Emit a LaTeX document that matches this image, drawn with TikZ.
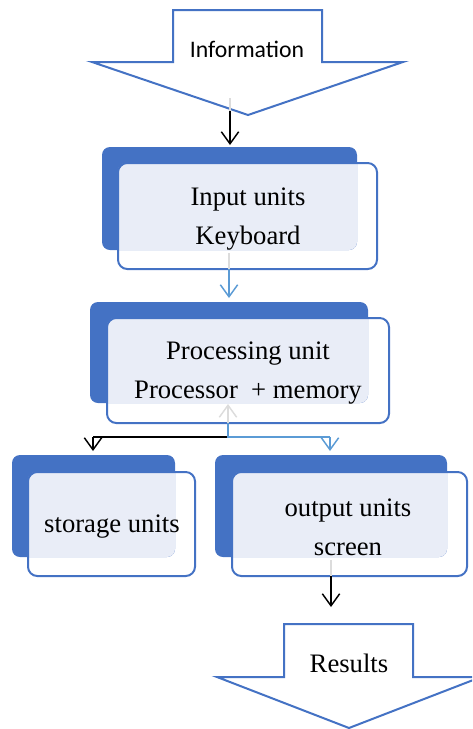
\documentclass[tikz,border=0pt]{standalone}
\usepackage{fontspec}
\setmainfont{Liberation Serif}
\newfontfamily\calib{Carlito}
\usetikzlibrary{arrows.meta,fit}
\definecolor{dk}{HTML}{4472C4}
\definecolor{lt}{HTML}{E9EDF7}
\definecolor{bl}{HTML}{5B9BD5}
\definecolor{gh}{HTML}{DCDCDC}
\begin{document}
\begin{tikzpicture}[x=0.75pt,y=-0.75pt,
  back/.style={fill=dk, draw=none, rounded corners=6pt, inner sep=0pt, outer sep=0pt},
  front/.style={draw=dk, line width=1.5pt, rounded corners=7pt, inner sep=0pt, outer sep=0pt},
  txt/.style={align=center, inner sep=0pt, font=\fontsize{20}{29}\selectfont},
  big/.style={draw=dk, line width=1.5pt, fill=white, line join=miter},
  tip/.style={-{Straight Barb[length=9pt,width=13pt,line width=1.1pt]}},
  con/.style={line width=1.1pt, black, tip},
  bcon/.style={line width=1.1pt, bl, tip},
  ghost/.style={line width=1.1pt, gh},
]
\useasboundingbox (0,0) rectangle (472,729);
\clip (0,0) rectangle (472,729);

% Information arrow
\draw[big] (173,10) -- (322,10) -- (322,62) -- (403,62) -- (248,115) -- (92,62) -- (173,62) -- cycle;
\node[font=\calib\fontsize{17.8}{20}\selectfont] (info) at (247,49) {Information};

% Input units
\node[back, fit={(102,147)(357,250)}] (inback) {};
\begin{scope}
  \clip[rounded corners=6pt] (102,147) rectangle (357,250);
  \fill[lt, rounded corners=6pt] (118,163) rectangle (377,269);
\end{scope}
\node[front, fit={(118,163)(377,269)}] (input) {};
\node[txt] (inputtxt) at (248,219) {Input units\\Keyboard};

% Processing unit
\node[back, fit={(90,302)(368,403)}] (prback) {};
\begin{scope}
  \clip[rounded corners=6pt] (90,302) rectangle (368,403);
  \fill[lt, rounded corners=6pt] (107,318) rectangle (389,423);
\end{scope}
\node[front, fit={(107,318)(389,423)}] (proc) {};
\node[txt] (proctxt) at (248,373) {Processing unit\\Processor \ + memory};

% Storage units
\node[back, fit={(12,455)(175,557)}] (stback) {};
\begin{scope}
  \clip[rounded corners=6pt] (12,455) rectangle (175,557);
  \fill[lt, rounded corners=6pt] (28,472) rectangle (195,576);
\end{scope}
\node[front, fit={(28,472)(195,576)}] (stor) {};
\node[txt] (stortxt) at (112,527) {storage units};

% Output units
\node[back, fit={(215,455)(447,557)}] (outback) {};
\begin{scope}
  \clip[rounded corners=6pt] (215,455) rectangle (447,557);
  \fill[lt, rounded corners=6pt] (232,472) rectangle (467,576);
\end{scope}
\node[front, fit={(232,472)(467,576)}] (out) {};
\node[txt] (outtxt) at (348,527) {output units\\screen};

% Results arrow
\draw[big] (284,624) -- (413,624) -- (413,677) -- (481,677) -- (349,728) -- (217,677) -- (284,677) -- cycle;
\node[font=\fontsize{20}{24}\selectfont] (res) at (349,663) {Results};

% connectors
\coordinate (c1) at (230,98);
\coordinate (c1b) at (230,111);
\draw[ghost] (c1) -- (c1b);
\draw[con] (c1b) -- ([yshift=1.5pt]c1 |- inback.north);

\coordinate (c2) at (229,253);
\draw[ghost] (c2) -- (c2 |- input.south);
\draw[bcon] (c2 |- input.south) -- ([yshift=3pt]c2 |- prback.north);

\coordinate (c3) at (228,437);
\draw[ghost, tip] (c3) -- (228,404);
\coordinate (c4) at (93,437);
\coordinate (c5) at (330,437);
\draw[line width=1.1pt, black] (c3) -- (c4);
\draw[con] (c4) -- ([yshift=3pt]c4 |- stback.north);
\draw[line width=1.1pt, bl] (c3 |- proc.south) -- (c3) -- (c5);
\draw[bcon] (c5) -- ([yshift=3pt]c5 |- outback.north);

\coordinate (c6) at (331,560);
\draw[ghost] (c6) -- (c6 |- out.south);
\coordinate (c7) at (331,607);
\draw[con] (c6 |- out.south) -- (c7);
\end{tikzpicture}
\end{document}
